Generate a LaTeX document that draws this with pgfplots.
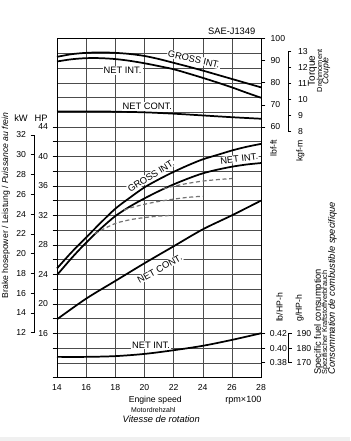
\documentclass[border=0pt]{standalone}
\usepackage{pgfplots}
\pgfplotsset{compat=1.18}
\usepackage{fontspec}
\setmainfont{Liberation Sans}
\newcommand{\fs}[1]{\fontsize{#1}{#1}\selectfont}
\begin{document}
\begin{tikzpicture}
\pgfplotsset{
  base/.style={scale only axis, width=153pt, height=254.25pt, xmin=14, xmax=28,
    at={(0pt,0pt)}, anchor=south west, enlargelimits=false, clip=false},
  yax/.style={axis x line=none, y axis line style={draw=none}, tick align=outside,
    major tick length=3.2pt, minor tick length=3.2pt, tick style={black, line width=0.4pt},
    yticklabel style={font=\fs{6.5}}},
  br/.style={scale only axis, width=5pt, xmin=0, xmax=1, enlargelimits=false, axis x line=none,
    tick align=outside, major tick length=2.5pt, tick style={black, line width=0.4pt},
    axis line style={black, line width=0.4pt}, yticklabel style={font=\fs{6.5}},
    yticklabel={\pgfmathprintnumber[assume math mode=true]{\tick}}},
  main/.style={black, line width=1.3pt, smooth, tension=0.5},
  dsh/.style={black!55, line width=0.9pt, dash pattern=on 3pt off 2pt, smooth, tension=0.5},
}
\path[use as bounding box] (-42.75pt,-47.625pt) rectangle (219.75pt,283.125pt);
\fill[black!6] (-42.75pt,-47.625pt) rectangle (219.75pt,-44.6pt);

% Grid axis with power curves (HP)
\begin{axis}[base, ymin=10, ymax=56,
  xtick={14,16,...,28}, ytick={10,12,...,56}, yticklabels={},
  grid=major, grid style={black!70, line width=0.3pt},
  major tick length=0pt, axis line style={black, line width=0.5pt},
  xticklabel={\pgfmathprintnumber[assume math mode=true]{\tick}},
  xticklabel style={font=\fs{6.5}, yshift=-1.5pt}]
% GROSS INT. power
\addplot[main] coordinates {(14,24.8) (15,27.0) (16,29.0) (17,31.0) (18,32.9) (19,34.4) (20,35.8) (21,36.9) (22,37.9) (23,38.8) (24,39.6) (25,40.2) (26,40.8) (27,41.3) (28,41.7)};
% NET INT. power
\addplot[main] coordinates {(14,23.9) (15,26.2) (16,28.3) (17,30.2) (18,31.9) (19,33.2) (20,34.3) (21,35.3) (22,36.2) (23,37.0) (24,37.7) (25,38.2) (26,38.6) (27,38.9) (28,39.1)};
% NET CONT. power
\addplot[main] coordinates {(14,17.9) (16,20.7) (18,23.1) (20,25.5) (22,27.8) (24,30.1) (26,32.0) (28,34.0)};
% governed (dashed) curves
\addplot[dsh] coordinates {(16.6,29.5) (17,29.95) (18,30.9) (19,31.4) (20,31.7) (21,31.9) (22,32.0)};
\addplot[dsh] coordinates {(18.6,32.7) (19,33.0) (20,33.5) (21,33.9) (22,34.2) (23,34.45) (24,34.6)};
\addplot[dsh] coordinates {(21.3,35.6) (22,35.95) (23,36.35) (24,36.65) (25,36.85) (26,37.0)};
\node[fill=white, inner sep=0.5pt, rotate=32, font=\fs{7}] at (axis cs:20.45,37.35) {GROSS INT.};
\node[fill=white, inner sep=0.5pt, rotate=7, font=\fs{7}] at (axis cs:26.5,39.7) {NET INT.};
\node[fill=white, inner sep=0.5pt, rotate=29, font=\fs{7}] at (axis cs:21.05,24.75) {NET CONT.};
\end{axis}

% HP ticks (left)
\begin{axis}[base, yax, ymin=10, ymax=56, axis y line*=left,
  ytick={16,20,...,44}, minor ytick={10,14,...,42},
  yticklabel={\pgfmathprintnumber[assume math mode=true]{\tick}}]
\end{axis}

% Torque lbf-ft (right)
\begin{axis}[base, yax, ymin=-53.3333, ymax=100, axis y line*=right,
  ytick={60,70,...,100},
  yticklabel={\pgfmathprintnumber[assume math mode=true]{\tick}},
  yticklabel style={xshift=0.5pt}]
\addplot[main] coordinates {(14,91.7) (15,92.9) (16,93.5) (17,93.7) (18,93.5) (19,93.0) (20,92.1) (21,90.7) (22,89.0) (23,87.3) (24,85.5) (25,83.6) (26,81.7) (27,79.8) (28,77.9)};
\addplot[main] coordinates {(14,89.6) (15,90.6) (16,91.1) (17,91.1) (18,90.7) (19,89.9) (20,88.8) (21,87.5) (22,86.1) (23,84.2) (24,82.2) (25,80.1) (26,77.9) (27,75.5) (28,73.2)};
\addplot[main] coordinates {(14,67.0) (16,67.0) (18,66.9) (20,66.6) (22,66.0) (24,65.2) (26,64.4) (28,63.7)};
\node[fill=white, inner sep=0.6pt, rotate=-13, font=\fs{7}] at (axis cs:23.4,90.6) {GROSS INT.};
\node[fill=white, inner sep=0.8pt, font=\fs{7}] at (axis cs:18.5,85.5) {NET INT.};
\node[fill=white, inner sep=0.8pt, font=\fs{7}] at (axis cs:20.2,69.2) {NET CONT.};
\end{axis}

% Fuel consumption lb/HP-h (right)
\begin{axis}[base, yax, ymin=0.36, ymax=0.82, axis y line*=right,
  ytick={0.38,0.40,0.42},
  yticklabel={\pgfmathprintnumber[assume math mode=true,fixed,fixed zerofill,precision=2]{\tick}},
  yticklabel style={xshift=0pt}]
\addplot[main] coordinates {(14,0.388) (16,0.388) (18,0.389) (20,0.392) (22,0.397) (24,0.403) (26,0.411) (28,0.420)};
\node[fill=white, inner sep=0.8pt, font=\fs{7}] at (axis cs:20.45,0.404) {NET INT.};
\end{axis}

% kW bracket
\begin{axis}[br, height=148.24pt, at={(-17.25pt,33.66pt)}, anchor=south west,
  ymin=12, ymax=32, axis y line*=left, ytick={12,14,...,32}]
\end{axis}
% kgf-m bracket
\begin{axis}[br, height=59.97pt, at={(173.25pt,184.38pt)}, anchor=south east,
  ymin=8, ymax=13, axis y line*=right, ytick={8,9,...,13},
  yticklabel style={xshift=1.5pt}]
\end{axis}
% g/HP-h bracket
\begin{axis}[br, height=22.1pt, at={(173.75pt,11.05pt)}, anchor=south east,
  ymin=170, ymax=190, axis y line*=right, ytick={170,180,190}]
\end{axis}

% texts
\node[anchor=east, font=\fs{7}] at (152.25pt,259.9pt) {SAE-J1349};
\node[font=\fs{7}] at (-27pt,194.4pt) {kW};
\node[font=\fs{7}] at (-12pt,194.4pt) {HP};
\node[rotate=90, font=\fs{6.5}] at (-38.25pt,129pt) {Brake hosepower / Leistung / \textit{Puissance au frein}};
\node[rotate=90, font=\fs{7.5}] at (191.6pt,229.9pt) {Torque};
\node[rotate=90, font=\fs{5.5}] at (196.9pt,229.9pt) {Drehmoment};
\node[rotate=90, font=\fs{6.5}\itshape] at (201.9pt,229.9pt) {Couple};
\node[rotate=90, font=\fs{6.5}] at (162.4pt,172.1pt) {lbf-ft};
\node[rotate=90, font=\fs{6.5}] at (182.6pt,169.9pt) {kgf-m};
\node[rotate=90, font=\fs{6.5}] at (166.9pt,52.5pt) {lb/HP-h};
\node[rotate=90, font=\fs{6.5}] at (181.9pt,52.1pt) {g/HP-h};
\node[rotate=90, anchor=west, inner sep=0pt, font=\fs{7}] at (196.1pt,1.9pt) {Specific fuel consumption};
\node[rotate=90, anchor=west, inner sep=0pt, font=\fs{5.5}] at (201.2pt,1.9pt) {Spezifischer Kraftstoffverbrauch};
\node[rotate=90, anchor=west, inner sep=0pt, font=\fs{7}\itshape] at (206.6pt,1.9pt) {Consommation de combustible specifique};
\node[font=\fs{6.5}] at (73.7pt,-17.1pt) {Engine speed};
\node[font=\fs{5.2}] at (72.2pt,-24.75pt) {Motordrehzahl};
\node[font=\fs{7}\itshape] at (78.2pt,-31.1pt) {Vitesse de rotation};
\node[anchor=east, inner sep=0pt, font=\fs{6.8}] at (153.5pt,-16.9pt) {rpm×100};
\end{tikzpicture}
\end{document}
